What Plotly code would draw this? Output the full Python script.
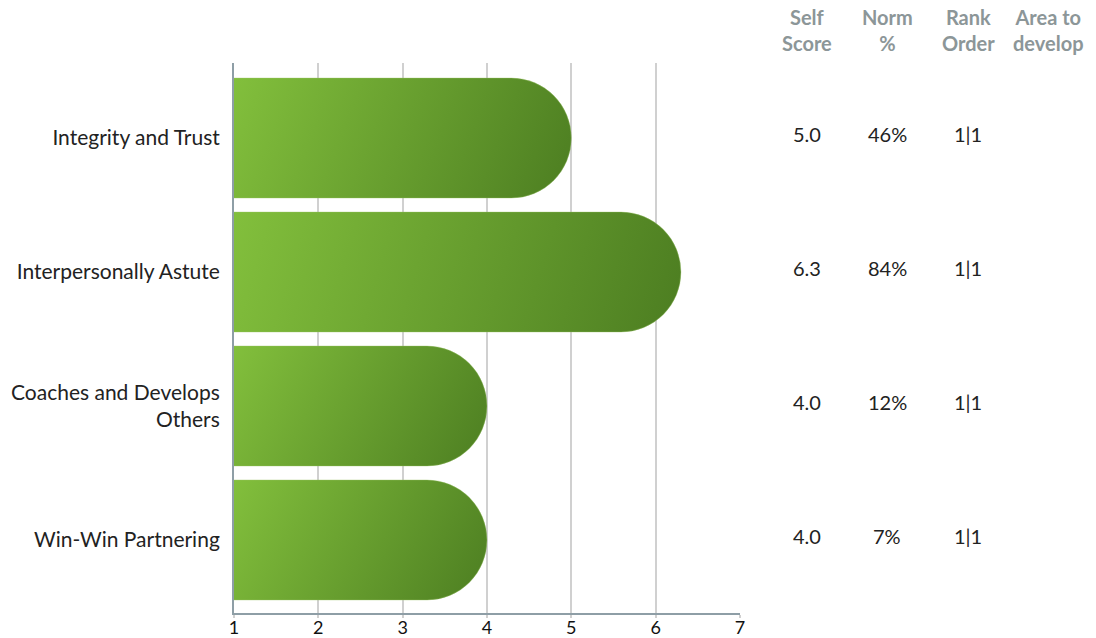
import plotly.graph_objects as go

categories = ["Integrity and Trust", "Interpersonally Astute",
              "Coaches and Develops<br>Others", "Win-Win Partnering"]
self_scores = [5.0, 6.3, 4.0, 4.0]
norm_pct = ["46%", "84%", "12%", "7%"]
rank_order = ["1|1", "1|1", "1|1", "1|1"]
area_to_develop = ["", "", "", ""]
headers = ["Self<br>Score", "Norm<br>%", "Rank<br>Order", "Area to<br>develop"]
x_ticks = [1, 2, 3, 4, 5, 6, 7]

W, H = 1096, 638
L, R, T, B = 234, 356, 63, 25
PW = W - L - R
FONT = "Lato, 'Open Sans', sans-serif"

fig = go.Figure()
fig.add_trace(go.Bar(
    y=list(range(len(categories))),
    x=self_scores,
    orientation="h",
    width=0.896,
    marker=dict(color="#6a9f30", cornerradius="50%",
                line=dict(color="rgba(160,200,110,0.6)", width=0.6)),
    hoverinfo="skip",
))

col_px = [807, 887, 968, 1048]
cols = [[f"{v:.1f}" for v in self_scores], norm_pct, rank_order, area_to_develop]
ann = []
for cx, h in zip(col_px, headers):
    ann.append(dict(x=(cx - L) / PW, xref="paper", y=(H - B - 30) / (H - T - B), yref="paper",
                    text=f"<b>{h}</b>", showarrow=False, xanchor="center", yanchor="middle",
                    font=dict(family=FONT, size=20, color="#8c9698")))
for cx, col in zip(col_px, cols):
    for i, t in enumerate(col):
        if t:
            ann.append(dict(x=(cx - L) / PW, xref="paper", y=i, yref="y", yshift=4,
                            text=t, showarrow=False, xanchor="center", yanchor="middle",
                            font=dict(family=FONT, size=20, color="#222222")))

fig.update_layout(
    width=W, height=H, autosize=False,
    margin=dict(l=L, r=R, t=T, b=B, pad=0, autoexpand=False),
    plot_bgcolor="white", paper_bgcolor="white",
    showlegend=False,
    annotations=ann,
    font=dict(family=FONT, size=20, color="#222222"),
    xaxis=dict(range=[1, 7], tickvals=x_ticks, ticktext=[str(t) for t in x_ticks],
               showgrid=True, gridcolor="#d0d0d0", gridwidth=2,
               showline=True, linecolor="#8e9ea6", linewidth=2,
               ticks="outside", ticklen=3, tickcolor="#d0d0d0", tickwidth=2,
               zeroline=False, automargin=False, ticklabelstandoff=-6,
               tickfont=dict(size=18, color="#111111")),
    yaxis=dict(range=[3.545, -0.56], tickvals=list(range(len(categories))),
               ticktext=categories, showgrid=False, zeroline=False,
               showline=True, linecolor="#8e9ea6", linewidth=2,
               ticks="", ticklabelstandoff=8, automargin=False,
               tickfont=dict(size=21, color="#222222")),
)

post = """
document.body.style.margin = '0';
document.body.style.padding = '0';
var gd = document.getElementById('{plot_id}');
function applyGrad(){
  var svg = gd.querySelector('.main-svg');
  var ns = 'http://www.w3.org/2000/svg';
  var defs = svg.querySelector('defs');
  gd.querySelectorAll('.bars .point path').forEach(function(p, i){
    var bb = p.getBBox();
    var id = 'barGrad' + i;
    var old = svg.querySelector('#' + id);
    if (old) old.remove();
    var g = document.createElementNS(ns, 'linearGradient');
    g.setAttribute('id', id);
    g.setAttribute('gradientUnits', 'userSpaceOnUse');
    g.setAttribute('x1', Math.max(bb.x, 0)); g.setAttribute('y1', bb.y);
    g.setAttribute('x2', bb.x + bb.width); g.setAttribute('y2', bb.y + bb.height * 1.1);
    var s1 = document.createElementNS(ns, 'stop');
    s1.setAttribute('offset', '0'); s1.setAttribute('stop-color', '#82bf3c');
    var s2 = document.createElementNS(ns, 'stop');
    s2.setAttribute('offset', '1'); s2.setAttribute('stop-color', '#4c7d21');
    g.appendChild(s1); g.appendChild(s2); defs.appendChild(g);
    p.style.fill = 'url(#' + id + ')'; p.style.fillOpacity = 1;
  });
}
applyGrad();
gd.on('plotly_afterplot', applyGrad);
"""

fig.write_html("out.html", post_script=post,
               config={"responsive": False, "displayModeBar": False},
               default_width="1096px", default_height="638px")
